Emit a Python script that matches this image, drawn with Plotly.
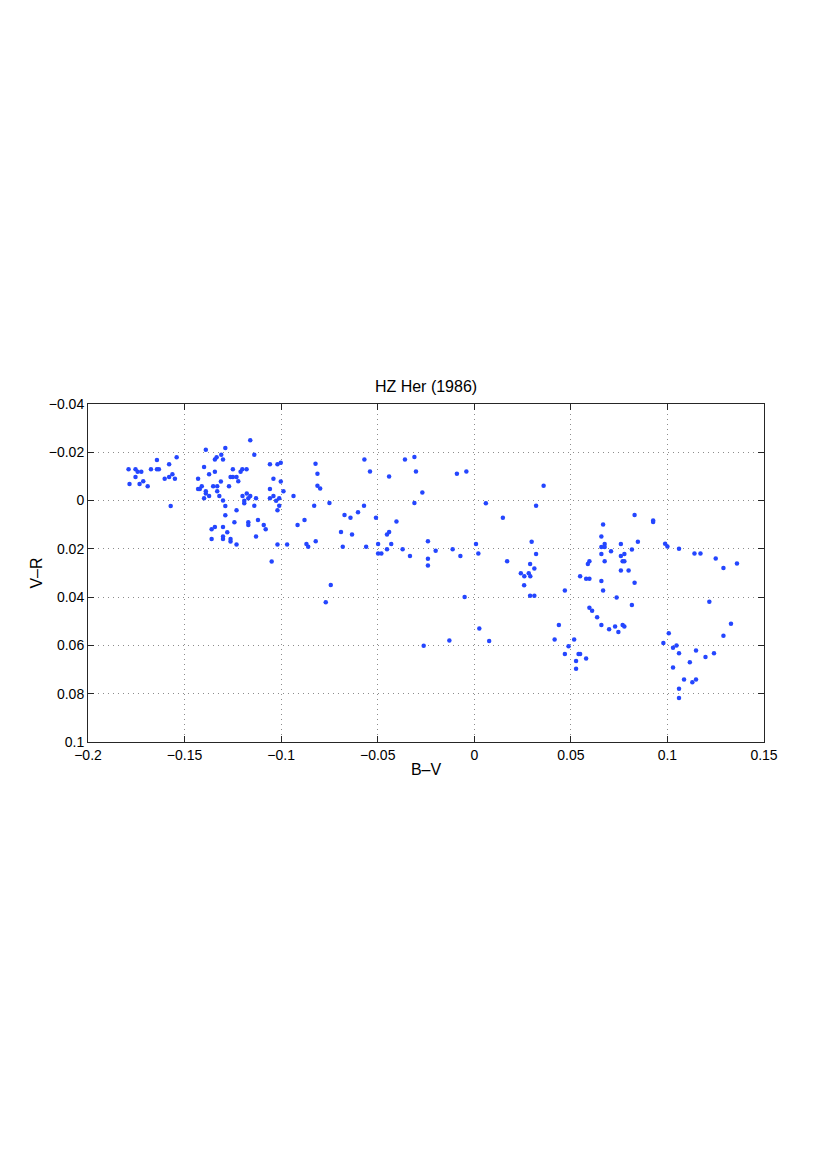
import plotly.graph_objects as go

# B-V colour index (x) and V-R colour index (y)
b_v = [
    -0.179, -0.1785, -0.1754, -0.1754, -0.1743, -0.1724, -0.1733, -0.1714, -0.1691, -0.1674,
    -0.1643, -0.1643, -0.1633, -0.1603, -0.158, -0.158, -0.1563, -0.1572, -0.155, -0.1541,
    -0.143, -0.143, -0.1421, -0.1411, -0.1399, -0.1399, -0.139, -0.139, -0.139, -0.1373,
    -0.1373, -0.136, -0.136, -0.1352, -0.1343, -0.1343, -0.1343, -0.1334, -0.1331, -0.1331,
    -0.132, -0.1312, -0.131, -0.1301, -0.1301, -0.1301, -0.1301, -0.1301, -0.1289, -0.1289,
    -0.1289, -0.1279, -0.127, -0.1262, -0.1262, -0.1262, -0.125, -0.125, -0.1242, -0.1231,
    -0.1231, -0.1231, -0.1222, -0.121, -0.1201, -0.12, -0.1191, -0.1191, -0.1179, -0.1178,
    -0.117, -0.117, -0.117, -0.116, -0.116, -0.1139, -0.1139, -0.113, -0.113, -0.112,
    -0.109, -0.108, -0.1058, -0.1058, -0.1058, -0.1049, -0.104, -0.104, -0.1026, -0.1019,
    -0.1019, -0.1019, -0.101, -0.1002, -0.1002, -0.101, -0.0988, -0.0969, -0.0936, -0.0915,
    -0.0879, -0.0869, -0.086, -0.0829, -0.0822, -0.0821, -0.0812, -0.0812, -0.0798, -0.0769,
    -0.075, -0.0743, -0.069, -0.0681, -0.0672, -0.0641, -0.0633, -0.0602, -0.0571, -0.0569,
    -0.056, -0.054, -0.0509, -0.0498, -0.0498, -0.0481, -0.0452, -0.0452, -0.0441, -0.0441,
    -0.043, -0.0403, -0.0371, -0.0359, -0.0333, -0.031, -0.031, -0.0302, -0.0269, -0.024,
    -0.024, -0.024, -0.02, -0.0262, -0.0129, -0.0112, -0.009, -0.0072, -0.005, -0.0041,
    0.0009, 0.0021, 0.0026,
    0.0359, 0.006, 0.0148, 0.032, 0.0297, 0.017, 0.032, 0.0289, 0.0311, 0.0241,
    0.0259, 0.0282, 0.029, 0.0258, 0.0289, 0.0311, 0.0469, 0.0077, 0.0438, 0.0416,
    0.0488, 0.0469, 0.0517, 0.054, 0.0548, 0.0527, 0.0527, 0.0579,
    0.083, 0.0667, 0.0658, 0.0675, 0.0675, 0.0658, 0.0658, 0.0708, 0.0675, 0.0596,
    0.0588, 0.0548, 0.0579, 0.0596, 0.0658, 0.0667, 0.0737, 0.0596, 0.061, 0.0636,
    0.0658, 0.0698, 0.0729, 0.0746, 0.0768, 0.0777, 0.0816, 0.0759, 0.0759, 0.0777,
    0.0768, 0.0777, 0.0759, 0.0799, 0.0816, 0.083, 0.0847,
    0.0926, 0.0926, 0.0988, 0.1, 0.106, 0.114, 0.1171, 0.125, 0.129, 0.136,
    0.1217, 0.1329, 0.129, 0.1007, 0.0979, 0.1029, 0.1047, 0.106, 0.1148, 0.1197,
    0.1241, 0.1029, 0.1116, 0.1086, 0.1129, 0.1148, 0.106, 0.106,
]
v_r = [
    -0.013, -0.0069, -0.013, -0.0098, -0.0119, -0.0119, -0.0069, -0.008, -0.0059, -0.013,
    -0.0168, -0.013, -0.013, -0.009, -0.015, -0.0098, -0.0109, 0.0022, -0.009, -0.0179,
    -0.009, -0.0048, -0.0048, -0.0059, -0.0139, -0.001, -0.0211, -0.0039, -0.0029, -0.0109,
    -0.0019, 0.0119, 0.0159, -0.0059, -0.017, -0.0119, 0.0109, -0.0179, -0.0059, -0.0039,
    -0.0019, -0.0079, -0.019, -0.017, 0.0, 0.0109, 0.0149, 0.0159, -0.0218, 0.0022,
    0.0061, 0.0131, -0.0059, 0.0159, 0.017, -0.0098, -0.013, -0.0098, 0.009, -0.0098,
    0.004, 0.0182, -0.008, -0.0119, -0.013, -0.0019, 0.0001, 0.0011, -0.013, -0.0029,
    -0.001, 0.009, 0.0101, -0.025, -0.0019, -0.019, 0.0021, -0.001, 0.0149, 0.008,
    0.0101, 0.0119, -0.015, -0.0048, -0.001, 0.0252, -0.009, -0.0019, 0.0001, -0.015,
    0.004, 0.0182, 0.0021, -0.0157, -0.0079, -0.001, -0.0039, 0.0182, -0.0019, 0.0101,
    0.008, 0.018, 0.0191, 0.0021, -0.0152, 0.0169, -0.0111, -0.0061, -0.005, 0.0421,
    0.001, 0.035, 0.013, 0.0191, 0.006, 0.0071, 0.0141, 0.0048, 0.0021, -0.017,
    0.0191, -0.012, 0.0071, 0.018, 0.0219, 0.0219, 0.0202, 0.0141, -0.01, 0.013,
    0.018, 0.0087, 0.0202, -0.017, 0.023, -0.018, 0.001, -0.012, -0.0033, 0.0169,
    0.0241, 0.0269, 0.0208, 0.0601, 0.058, 0.0202, -0.0111, 0.023, 0.0399, -0.012,
    0.018, 0.0219, 0.053,
    -0.0061, 0.0011, 0.0071, 0.0021, 0.0171, 0.0251, 0.0221, 0.0263, 0.0281, 0.0301,
    0.0313, 0.0301, 0.0313, 0.0351, 0.0394, 0.0394, 0.0372, 0.0582, 0.0515, 0.0575,
    0.0603, 0.0636, 0.0575, 0.0636, 0.0636, 0.0665, 0.0697, 0.0654,
    0.006, 0.0099, 0.0149, 0.018, 0.0192, 0.0192, 0.0221, 0.021, 0.0251, 0.0251,
    0.0263, 0.0313, 0.0324, 0.0324, 0.0333, 0.0372, 0.0401, 0.0444, 0.0456, 0.0483,
    0.0515, 0.0533, 0.0522, 0.0544, 0.0515, 0.0522, 0.0433, 0.018, 0.023, 0.0221,
    0.0251, 0.0251, 0.029, 0.029, 0.0203, 0.034, 0.0171,
    0.0083, 0.0089, 0.0179, 0.019, 0.02, 0.0219, 0.0219, 0.024, 0.0279, 0.0261,
    0.0419, 0.051, 0.056, 0.055, 0.059, 0.061, 0.06, 0.0632, 0.0621, 0.0648,
    0.0632, 0.0691, 0.067, 0.0741, 0.0752, 0.0741, 0.0779, 0.0818,
]

x_ticks = [-0.2, -0.15, -0.1, -0.05, 0, 0.05, 0.1, 0.15]
x_labels = ["\u22120.2", "\u22120.15", "\u22120.1", "\u22120.05", "0", "0.05", "0.1", "0.15"]
y_ticks = [-0.04, -0.02, 0, 0.02, 0.04, 0.06, 0.08, 0.1]
y_labels = ["\u22120.04", "\u22120.02", "0", "0.02", "0.04", "0.06", "0.08", "0.1"]

font = "Liberation Sans, Arial, sans-serif"

fig = go.Figure()
fig.add_trace(go.Scatter(
    x=b_v, y=v_r, mode="markers",
    marker=dict(size=4.5, color="#2446ff", line=dict(width=0)),
    showlegend=False,
))

axis_common = dict(
    showline=True, linecolor="#262626", linewidth=1, mirror="ticks",
    ticks="inside", ticklen=6, tickcolor="#262626",
    showgrid=True, gridcolor="#8c8c8c", griddash="1px,4px", gridwidth=1,
    zeroline=False, tickfont=dict(family=font, size=14, color="#000000"),
)

# the page body adds an 8px offset, so margins are shifted to compensate
fig.update_layout(
    width=817, height=1157,
    paper_bgcolor="white", plot_bgcolor="white",
    margin=dict(l=80, r=61, t=396, b=423),
    title=dict(text="HZ Her (1986)", x=0.5, xanchor="center", xref="paper",
               y=(1157 - 378) / 1157, yref="container", yanchor="middle",
               font=dict(family=font, size=16, color="#000000")),
    xaxis=dict(range=[-0.2, 0.15], tickvals=x_ticks, ticktext=x_labels,
               ticklabelstandoff=0,
               title=dict(text="B\u2013V", font=dict(family=font, size=16, color="#000000"), standoff=2),
               **axis_common),
    yaxis=dict(range=[0.1, -0.04], tickvals=y_ticks, ticktext=y_labels,
               ticklabelstandoff=0,
               title=dict(text="V\u2013R", font=dict(family=font, size=16, color="#000000"), standoff=2),
               **axis_common),
)

fig.write_html("out.html")
